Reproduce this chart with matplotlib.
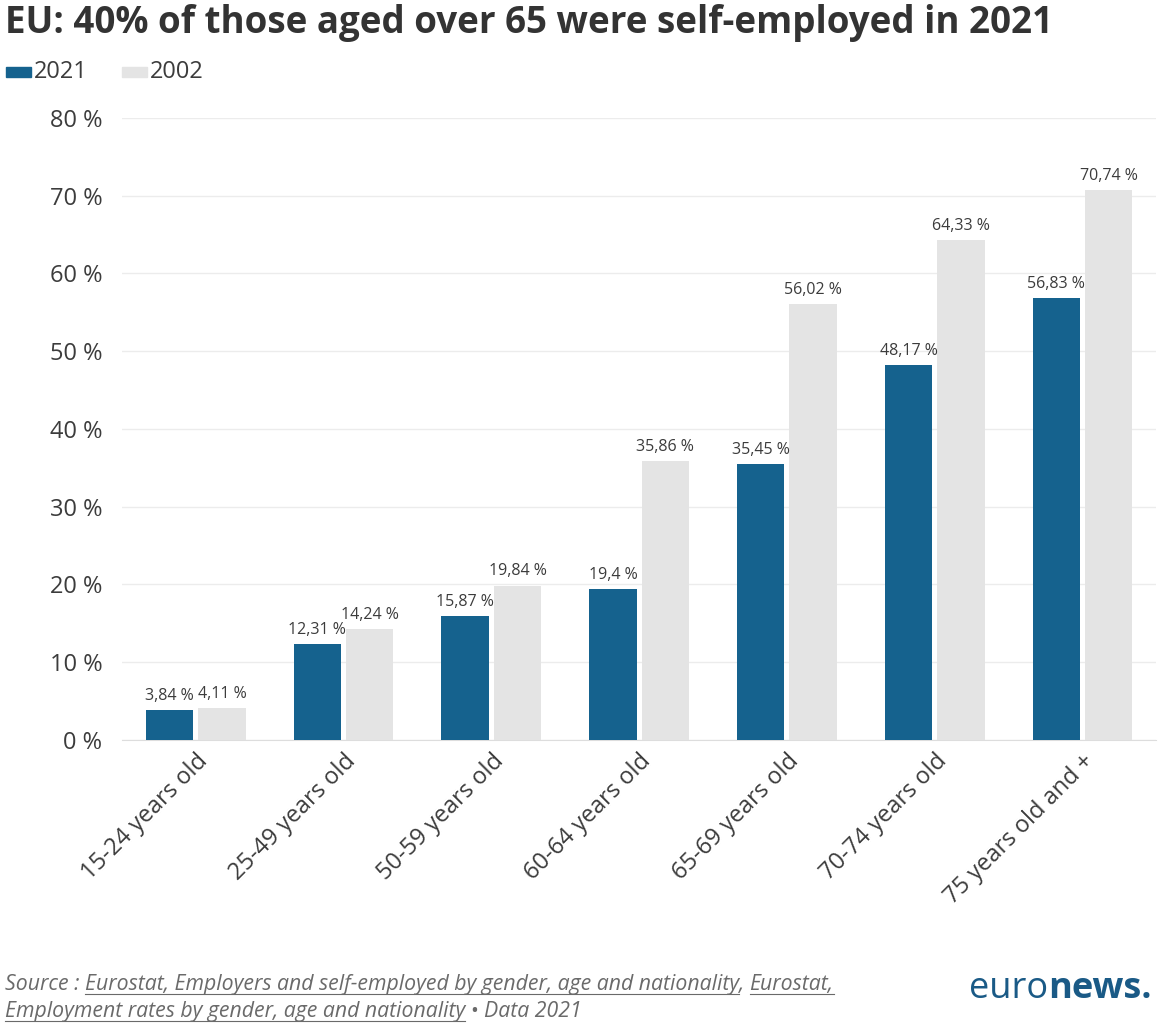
import matplotlib.pyplot as plt
import numpy as np

plt.rcParams['font.family'] = ['Open Sans', 'DejaVu Sans']

categories = ['15-24 years old', '25-49 years old', '50-59 years old', '60-64 years old',
              '65-69 years old', '70-74 years old', '75 years old and +']
values_2021 = [3.84, 12.31, 15.87, 19.4, 35.45, 48.17, 56.83]
values_2002 = [4.11, 14.24, 19.84, 35.86, 56.02, 64.33, 70.74]
yticks = [0, 10, 20, 30, 40, 50, 60, 70, 80]

BLUE = '#15628e'
GREY = '#e4e4e4'
TEXT = '#3c3c3c'


def fmt(v):
    s = ('%.2f' % v).rstrip('0').rstrip('.')
    return s.replace('.', ',') + ' %'


fig = plt.figure(figsize=(11.61, 10.26), dpi=100)
ax = fig.add_axes([0.105, 0.279, 0.891, 0.606])

x = np.arange(len(categories))
w = 0.32
gap = 0.035
b1 = ax.bar(x - w / 2 - gap / 2, values_2021, w, color=BLUE, zorder=3)
b2 = ax.bar(x + w / 2 + gap / 2, values_2002, w, color=GREY, zorder=3)

for bars, vals in ((b1, values_2021), (b2, values_2002)):
    for r, v in zip(bars, vals):
        ax.text(r.get_x() + r.get_width() / 2, v + 0.8, fmt(v), ha='center', va='bottom',
                fontsize=11.5, color=TEXT, zorder=4)

ax.set_xlim(-0.5, len(categories) - 0.5)
ax.set_ylim(0, 80)
ax.set_yticks(yticks)
ax.set_yticklabels([f'{t} %' for t in yticks], fontsize=17, color=TEXT)
ax.yaxis.grid(True, color='#ececec', linewidth=1, zorder=0)
ax.tick_params(axis='y', length=0, pad=14)
ax.tick_params(axis='x', length=0, pad=7)
ax.set_xticks(x)
ax.set_xticklabels(categories, rotation=45, ha='right', rotation_mode='anchor',
                   fontsize=17, color=TEXT)
for s in ('top', 'right', 'left'):
    ax.spines[s].set_visible(False)
ax.spines['bottom'].set_color('#dddddd')

fig.text(0.004, 0.978, 'EU: 40% of those aged over 65 were self-employed in 2021',
         fontsize=26.5, fontweight='bold', color='#333333', va='center')

# legend
fig.patches.append(plt.Rectangle((0.005, 0.925), 0.022, 0.01, transform=fig.transFigure,
                                 color=BLUE))
fig.text(0.029, 0.930, '2021', fontsize=17, color=TEXT, va='center')
fig.patches.append(plt.Rectangle((0.105, 0.925), 0.022, 0.01, transform=fig.transFigure,
                                 color=GREY))
fig.text(0.129, 0.930, '2002', fontsize=17, color=TEXT, va='center')

# footer
src_col = '#6a6a6a'
parts1 = [('Source : ', False), ('Eurostat, Employers and self-employed by gender, age and nationality', True),
          (', ', False), ('Eurostat,', True)]
parts2 = [('Employment rates by gender, age and nationality', True), (' \u2022 Data 2021', False)]

renderer = fig.canvas.get_renderer()
for parts, yy in ((parts1, 0.035), (parts2, 0.009)):
    xpos = 0.004
    for txt, underline in parts:
        t = fig.text(xpos, yy, txt, fontsize=15.3, style='italic', color=src_col, va='baseline')
        bb = t.get_window_extent(renderer).transformed(fig.transFigure.inverted())
        if underline:
            fig.add_artist(plt.Line2D([bb.x0, bb.x1], [yy - 0.004, yy - 0.004],
                                      transform=fig.transFigure, color=src_col, lw=0.8))
        xpos = bb.x1

t1 = fig.text(0.835, 0.027, 'euro', fontsize=26, color='#1a5a86', va='baseline')
bb = t1.get_window_extent(renderer).transformed(fig.transFigure.inverted())
fig.text(bb.x1, 0.027, 'news.', fontsize=26, fontweight='bold', color='#1a5a86', va='baseline')

fig.savefig('out.png', dpi=100, facecolor='white')
